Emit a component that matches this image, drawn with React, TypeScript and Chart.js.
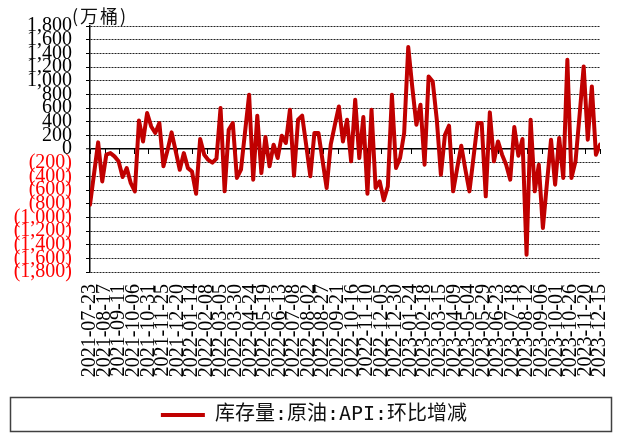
import { useEffect, useRef } from "react";
import { Chart, registerables } from "chart.js";

Chart.register(...registerables);

// Weekly change in API crude inventories, one value per week starting 2021-07-23 (10k barrels)
const seriesName = "库存量:原油:API:环比增减";
const unitLabel = "(万桶)";
const weekStep = 7; // days between observations
const weeklyChange = [
  -815, -360, 97, -474, -83, -60, -108, -180, -410, -278,
  -500, -620, 418, 111, 527, 330, 234, 380, -254, -20,
  243, -30, -303, -60, -280, -330, -655, 146, -83, -160,
  -200, -140, 600, -620, 282, 380, -424, -303, 250, 794,
  -449, 487, -351, 175, -254, 63, -132, 195, 88, 575,
  -390, 429, 487, 50, -400, 234, 234, -170, -570, 63,
  350, 623, 111, 429, -181, 721, -132, 468, -654, 575,
  -571, -474, -750, -547, 794, -278, -132, 234, 1492, 900,
  355, 648, -230, 1062, 989, 429, -376, 209, 341, -620,
  -280, 48, -300, -620, -120, 380, 380, -693, 536, -181,
  111, -83, -230, -449, 322, -98, 146, -1546, 429, -620,
  -230, -1156, -500, 136, -522, 161, -424, 1306, -424, -181,
  500, 1208, 136, 916, -83, 63,
];

// Date-axis labels, one every 25 days
const tickDays = 25;
const dateTickLabels = [
  "2021-07-23", "2021-08-17", "2021-09-11", "2021-10-06", "2021-10-31", "2021-11-25",
  "2021-12-20", "2022-01-14", "2022-02-08", "2022-03-05", "2022-03-30", "2022-04-24",
  "2022-05-19", "2022-06-13", "2022-07-08", "2022-08-02", "2022-08-27", "2022-09-21",
  "2022-10-16", "2022-11-10", "2022-12-05", "2022-12-30", "2023-01-24", "2023-02-18",
  "2023-03-15", "2023-04-09", "2023-05-04", "2023-05-29", "2023-06-23", "2023-07-18",
  "2023-08-12", "2023-09-06", "2023-10-01", "2023-10-26", "2023-11-20", "2023-12-15",
];

const yMin = -1800;
const yMax = 1800;
const yStep = 200;

const lineColor = "#C00000";
const serif = '"Liberation Serif", "Times New Roman", serif';
const cjk = '"Noto Sans CJK SC", sans-serif';
const legendFont = '"DejaVu Sans Mono", "Noto Sans CJK SC", sans-serif';

const formatValue = (v: number) => {
  const s = Math.abs(v).toLocaleString("en-US");
  return v < 0 ? `(${s})` : s;
};

const decorations = {
  id: "decorations",
  afterLayout(chart: any) {
    // nudge the legend row slightly right of centre
    const lg = chart.legend;
    if (lg) {
      lg.left += 14;
      lg.right += 14;
    }
  },
  beforeDatasetsDraw(chart: any) {
    const { ctx, scales } = chart;
    const x = scales.x;
    const y = scales.y;
    const y0 = y.getPixelForValue(0);
    ctx.save();
    ctx.strokeStyle = "#000";
    ctx.lineWidth = 1;
    x.ticks.forEach((t: any) => {
      const px = Math.round(x.getPixelForValue(t.value)) + 0.5;
      ctx.beginPath();
      ctx.moveTo(px, y0);
      ctx.lineTo(px, y0 + 5);
      ctx.stroke();
    });
    ctx.restore();
  },
  afterDraw(chart: any) {
    const { ctx, chartArea, legend } = chart;
    ctx.save();
    ctx.font = `18px ${cjk}`;
    ctx.fillStyle = "#111";
    ctx.textAlign = "left";
    ctx.textBaseline = "middle";
    if ("letterSpacing" in ctx) (ctx as any).letterSpacing = "2px";
    ctx.fillText(unitLabel, chartArea.left - 18, chartArea.top - 10);
    if ("letterSpacing" in ctx) (ctx as any).letterSpacing = "0px";
    if (legend) {
      ctx.strokeStyle = "#404040";
      ctx.lineWidth = 1.5;
      ctx.strokeRect(10.5, legend.top + 2.5, chart.width - 21, legend.height - 6);
    }
    ctx.restore();
  },
};

export default function App() {
  const canvasRef = useRef<HTMLCanvasElement>(null);

  useEffect(() => {
    const canvas = canvasRef.current;
    if (!canvas) return;
    const points = weeklyChange.map((v, i) => ({ x: i * weekStep, y: v }));
    const lastDay = (dateTickLabels.length - 1) * tickDays;

    const chart = new Chart(canvas, {
      type: "line",
      data: {
        datasets: [
          {
            label: seriesName,
            data: points,
            borderColor: lineColor,
            backgroundColor: lineColor,
            borderWidth: 4,
            borderJoinStyle: "round",
            borderCapStyle: "round",
            pointRadius: 0,
            tension: 0,
            fill: false,
          },
        ],
      },
      options: {
        animation: false,
        responsive: false,
        devicePixelRatio: 1,
        layout: { padding: { left: 0, right: 22, top: 26, bottom: 10 } },
        plugins: {
          tooltip: { enabled: false },
          legend: {
            position: "bottom",
            labels: {
              boxWidth: 44,
              boxHeight: 4,
              padding: 10,
              color: "#111",
              font: { size: 20, family: legendFont },
              generateLabels: (c: any) =>
                Chart.defaults.plugins.legend.labels
                  .generateLabels(c)
                  .map((l: any) => ({ ...l, lineWidth: 0, fillStyle: lineColor })),
            },
          },
        },
        scales: {
          x: {
            type: "linear",
            min: 0,
            max: lastDay,
            afterFit: (scale: any) => {
              scale.height = 123;
              scale.paddingLeft = 0;
              scale.paddingRight = 0;
            },
            grid: { display: false, drawTicks: false },
            border: { display: false },
            ticks: {
              stepSize: tickDays,
              autoSkip: false,
              maxRotation: 90,
              minRotation: 90,
              padding: 12,
              color: "#000",
              font: { size: 20, family: serif },
              callback: (value: any) => dateTickLabels[Math.round(Number(value) / tickDays)] ?? "",
            },
          },
          y: {
            min: yMin,
            max: yMax,
            afterFit: (scale: any) => {
              scale.width = 90;
            },
            grid: {
              color: (c: any) => (c.tick && c.tick.value === 0 ? "#000" : "#222"),
              lineWidth: (c: any) => (c.tick && c.tick.value === 0 ? 1.5 : 1),
              drawTicks: true,
              tickLength: 4,
              tickColor: "#000",
              tickWidth: 1,
            },
            border: {
              display: true,
              color: "#000",
              width: 1.5,
              dash: (c: any) => (c.tick && c.tick.value !== 0 ? [2, 1] : []),
            },
            ticks: {
              stepSize: yStep,
              autoSkip: false,
              padding: 14,
              color: (c: any) => (c.tick && c.tick.value < 0 ? "#FF0000" : "#000"),
              font: { size: 20, family: serif },
              callback: (value: any) => formatValue(Number(value)),
            },
          },
        },
      },
      plugins: [decorations],
    } as any);

    return () => chart.destroy();
  }, []);

  return (
    <div style={{ position: "fixed", left: 0, top: 0, width: 622, height: 445, background: "#fff" }}>
      <canvas ref={canvasRef} width={622} height={445} style={{ display: "block" }} />
    </div>
  );
}
